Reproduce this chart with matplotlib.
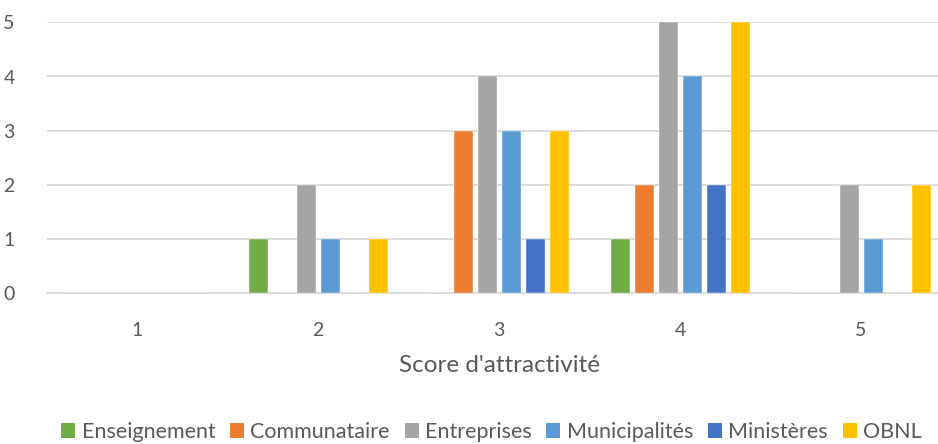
import matplotlib
matplotlib.use("Agg")
import matplotlib.pyplot as plt
from matplotlib.patches import Patch
import numpy as np

categories = ["1", "2", "3", "4", "5"]
series = ["Enseignement", "Communautaire", "Entreprises", "Municipalités", "Ministères", "OBNL"]
enseignement = [0, 1, 0, 1, 0]
communautaire = [0, 0, 3, 2, 0]
entreprises = [0, 2, 4, 5, 2]
municipalites = [0, 1, 3, 4, 1]
ministeres = [0, 0, 1, 2, 0]
obnl = [0, 1, 3, 5, 2]
values = [enseignement, communautaire, entreprises, municipalites, ministeres, obnl]
colors = ["#70AD47", "#ED7D31", "#A5A5A5", "#5B9BD5", "#4472C4", "#FFC000"]
legend_labels = ["Enseignement", "Communataire", "Entreprises", "Municipalités", "Ministères", "OBNL"]

plt.rcParams['font.family'] = ['Lato', 'DejaVu Sans']
txt = "#595959"
fs_tick = 14
fs_label = 17.5
fs_leg = 15.5

W, H = 938, 444
fig = plt.figure(figsize=(W / 100, H / 100), dpi=100)
left_px, right_px = 46.5, 951.5
bottom_px, top_px = 444 - 293.3, 444 - 22.3
ax = fig.add_axes([left_px / W, bottom_px / H, (right_px - left_px) / W, (top_px - bottom_px) / H])

x = np.arange(len(categories))
step = 24 / 181
width = 19 / 181
for i, (vals, c) in enumerate(zip(values, colors)):
    ax.bar(x + (i - 2.5) * step, vals, width=width, color=c, zorder=3,
           edgecolor="white", linewidth=0.3)

ax.set_xlim(-0.5, len(categories) - 0.5)
ax.set_ylim(0, 5)
ax.set_yticks(range(0, 6))
ax.set_xticks(x)
ax.set_xticklabels(categories)
ax.yaxis.grid(True, color="#D9D9D9", linewidth=1.3, zorder=0)
ax.set_axisbelow(True)
for s in ["top", "right", "left"]:
    ax.spines[s].set_visible(False)
ax.spines["bottom"].set_color("#D9D9D9")
ax.spines["bottom"].set_linewidth(1.3)
ax.tick_params(axis="both", length=0, labelsize=fs_tick, labelcolor=txt)
ax.tick_params(axis="y", pad=23)
ax.tick_params(axis="x", pad=21)
ax.set_xlabel("Score d'attractivité", fontsize=fs_label, color=txt, labelpad=11)

handles = [Patch(facecolor=c, edgecolor="none") for c in colors]
fig.legend(handles, legend_labels, loc="center", bbox_to_anchor=(491.5 / W, 12 / H),
           ncol=6, frameon=False, fontsize=fs_leg, labelcolor=txt,
           handlelength=0.65, handleheight=0.65, handletextpad=0.3, columnspacing=0.68,
           borderpad=0, borderaxespad=0)

fig.savefig("out.png", dpi=100)
